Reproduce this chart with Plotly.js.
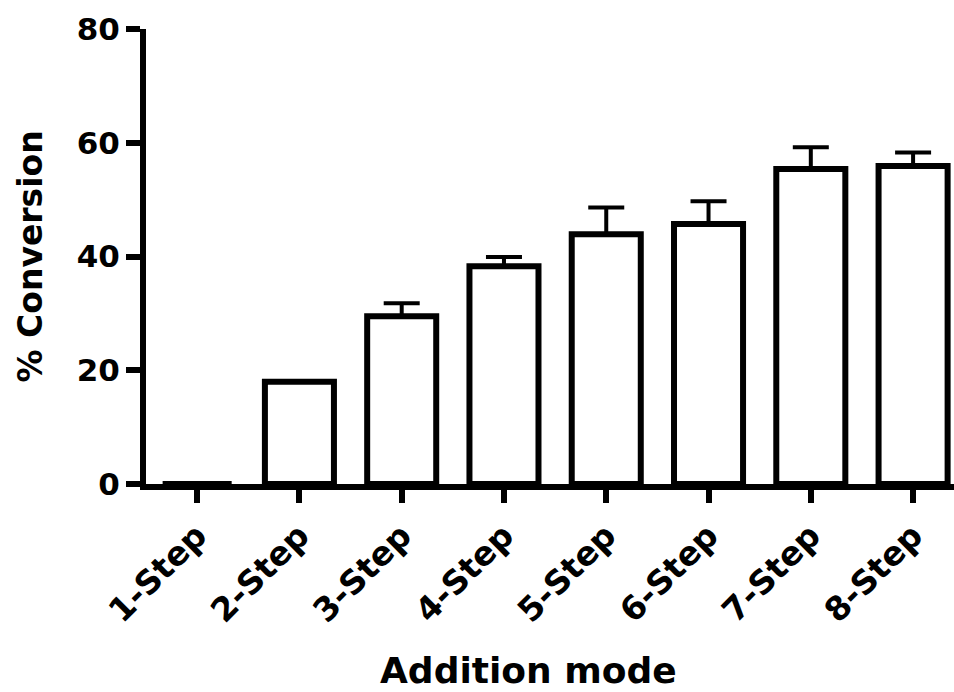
<!DOCTYPE html>
<html>
<head>
<meta charset="utf-8">
<script src="https://cdn.plot.ly/plotly-3.0.1.min.js"></script>
<style>
  html, body { margin: 0; padding: 0; background: #fff; }
  #chart { width: 954px; height: 692px; }
</style>
</head>
<body>
<div id="chart"></div>
<script>
// Conversion for each addition mode (mean and upper error)
const modes = ["1-Step", "2-Step", "3-Step", "4-Step", "5-Step", "6-Step", "7-Step", "8-Step"];
const conversion = [0, 18, 29.5, 38.3, 43.9, 45.7, 55.4, 55.9];
const errorUp = [0, 0, 2.3, 1.6, 4.7, 4.0, 3.8, 2.4];
const yTicks = [0, 20, 40, 60, 80];

const FONT = "'DejaVu Sans', sans-serif";
const W = 954, H = 692;
const M = { l: 146, r: 0, t: 29, b: 208 };
const plotW = W - M.l - M.r, plotH = H - M.t - M.b;

const trace = {
  type: "bar",
  x: modes.map((_, i) => i),
  y: conversion,
  width: 0.675,
  marker: { color: "#ffffff", line: { color: "#000000", width: 6 } },
  error_y: {
    type: "data",
    symmetric: false,
    array: errorUp,
    arrayminus: errorUp.map(() => 0),
    color: "#000000",
    thickness: 4,
    width: 18
  },
  hoverinfo: "skip"
};

const axisStyle = {
  ticks: "outside",
  ticklen: 14,
  tickwidth: 6,
  tickcolor: "#000000",
  showline: true,
  linewidth: 6,
  linecolor: "#000000",
  showgrid: false,
  zeroline: false,
  tickfont: { family: FONT, size: 31, weight: "bold", color: "#000000" },
  fixedrange: true
};

const layout = {
  width: W,
  height: H,
  margin: M,
  paper_bgcolor: "#ffffff",
  plot_bgcolor: "#ffffff",
  showlegend: false,
  font: { family: FONT, color: "#000000", size: 31, weight: "bold" },
  xaxis: Object.assign({}, axisStyle, {
    range: [-0.5, 7.4],
    tickmode: "array",
    tickvals: modes.map((_, i) => i),
    ticktext: modes,
    tickangle: -45,
    ticklen: 13,
    tickfont: { family: FONT, size: 33, weight: "bold", color: "#000000" }
  }),
  yaxis: Object.assign({}, axisStyle, {
    range: [0, 80],
    tickmode: "array",
    tickvals: yTicks,
    ticktext: yTicks.map(String)
  }),
  annotations: [
    {
      text: "Addition mode",
      xref: "paper", yref: "paper",
      x: (528 - M.l) / plotW,
      y: -(670 - (M.t + plotH)) / plotH,
      xanchor: "center", yanchor: "middle",
      showarrow: false,
      font: { family: FONT, size: 36, weight: "bold", color: "#000000" }
    },
    {
      text: "% Conversion",
      xref: "paper", yref: "paper",
      x: (30 - M.l) / plotW,
      y: 0.5,
      xanchor: "center", yanchor: "middle",
      textangle: -90,
      showarrow: false,
      font: { family: FONT, size: 33, weight: "bold", color: "#000000" }
    }
  ]
};

Plotly.newPlot("chart", [trace], layout, { displayModeBar: false, staticPlot: true });
</script>
</body>
</html>
